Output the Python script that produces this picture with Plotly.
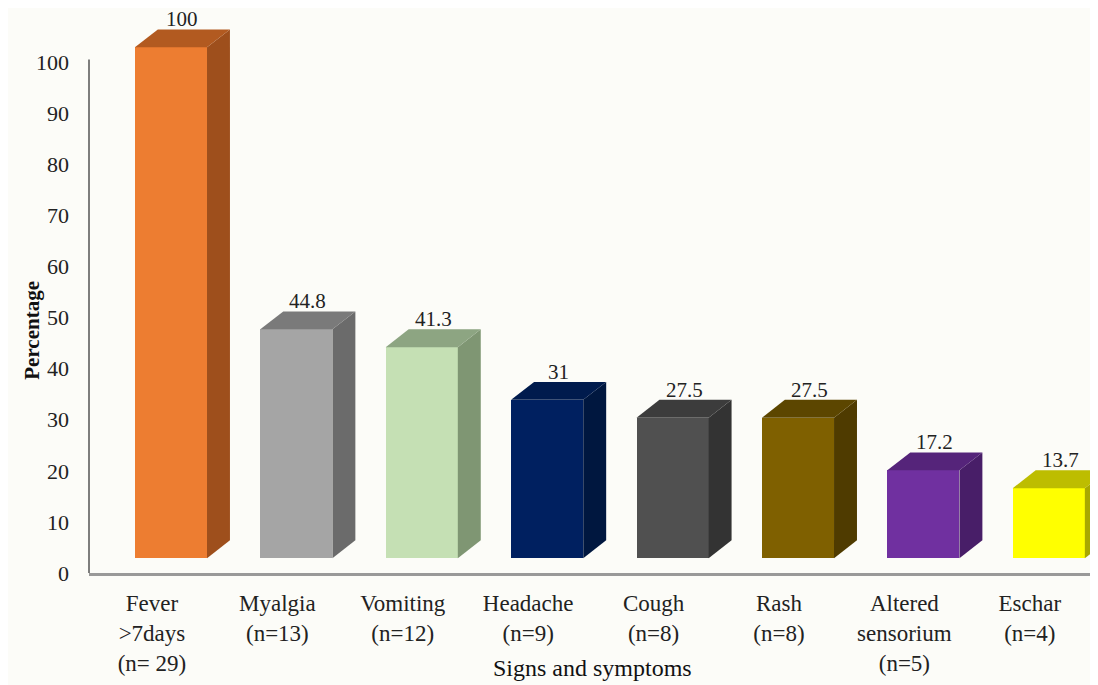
import plotly.graph_objects as go

categories = ["Fever<br>>7days<br>(n= 29)", "Myalgia<br>(n=13)", "Vomiting<br>(n=12)",
              "Headache<br>(n=9)", "Cough<br>(n=8)", "Rash<br>(n=8)",
              "Altered<br>sensorium<br>(n=5)", "Eschar<br>(n=4)"]
values = [100, 44.8, 41.3, 31, 27.5, 27.5, 17.2, 13.7]
value_labels = ["100", "44.8", "41.3", "31", "27.5", "27.5", "17.2", "13.7"]
front_colors = ["#ED7D31", "#A5A5A5", "#C5E0B4", "#002060", "#505050", "#7F6000", "#7030A0", "#FFFF00"]
side_colors = ["#9E4F1C", "#6B6B6B", "#7F9673", "#00173F", "#333333", "#4F3B00", "#481E68", "#A8A800"]
top_colors = ["#B25A20", "#7A7A7A", "#8DA582", "#001B4D", "#3C3C3C", "#5C4600", "#55247A", "#BDBD00"]
y_ticks = [0, 10, 20, 30, 40, 50, 60, 70, 80, 90, 100]

FONT = "Liberation Serif"
base = 2.9        # raised floor of the 3D bars
off_l, off_r = -0.136, 0.439   # front face extent relative to category position
dx, dy = 0.183, 3.5            # depth of the 3D extrusion

xs = list(range(len(categories)))
fig = go.Figure()

# side and top faces
for i, v in enumerate(values):
    xl, xr = i + off_l, i + off_r
    yb, yt = base, base + v
    fig.add_trace(go.Scatter(
        x=[xr, xr + dx, xr + dx, xr, xr], y=[yb, yb + dy, yt + dy, yt, yb],
        fill="toself", fillcolor=side_colors[i], mode="lines", line=dict(width=0),
        hoverinfo="skip", showlegend=False))
    fig.add_trace(go.Scatter(
        x=[xl, xr, xr + dx, xl + dx, xl], y=[yt, yt, yt + dy, yt + dy, yt],
        fill="toself", fillcolor=top_colors[i], mode="lines", line=dict(width=0),
        hoverinfo="skip", showlegend=False))

# front faces
fig.add_trace(go.Bar(
    x=[i + (off_l + off_r) / 2 for i in xs], y=values, base=base,
    width=off_r - off_l, marker=dict(color=front_colors, line=dict(width=0)),
    showlegend=False, hoverinfo="skip"))

# value labels
for i, v in enumerate(values):
    fig.add_annotation(x=i + (off_l + off_r) / 2 + dx / 2, y=base + v + dy,
                       text=value_labels[i], showarrow=False, yanchor="bottom",
                       yshift=-4, font=dict(family=FONT, size=21, color="#222"))

# y-axis line from 0 to 100
fig.add_shape(type="line", xref="paper", yref="y", x0=0, x1=0, y0=0, y1=100.5,
              line=dict(color="#555", width=1.5))

fig.add_annotation(text="<b>Percentage</b>", xref="paper", yref="paper",
                   x=-0.0706, y=0.432, textangle=-90, showarrow=False,
                   font=dict(family=FONT, size=21, color="#111"))
fig.add_annotation(text="Signs and symptoms", xref="paper", yref="paper",
                   x=0.5, y=-0.169, showarrow=False, yanchor="middle",
                   font=dict(family=FONT, size=24, color="#111"))

fig.update_layout(
    width=1090, height=677,
    margin=dict(l=81, r=3, t=2, b=112),
    paper_bgcolor="#FCFCF8", plot_bgcolor="#FCFCF8",
    bargap=0,
    xaxis=dict(range=[-0.502, 7.52], tickmode="array", tickvals=xs, ticktext=categories,
               showgrid=False, zeroline=False, showline=True, linecolor="#999",
               linewidth=2.5, ticks="", ticklabelstandoff=8,
               tickfont=dict(family=FONT, size=23, color="#222")),
    yaxis=dict(range=[0, 110.2], tickmode="array", tickvals=y_ticks,
               showgrid=False, zeroline=False, showline=False, ticks="",
               ticklabelstandoff=19,
               tickfont=dict(family=FONT, size=22, color="#222")),
)

fig.write_html("out.html")
